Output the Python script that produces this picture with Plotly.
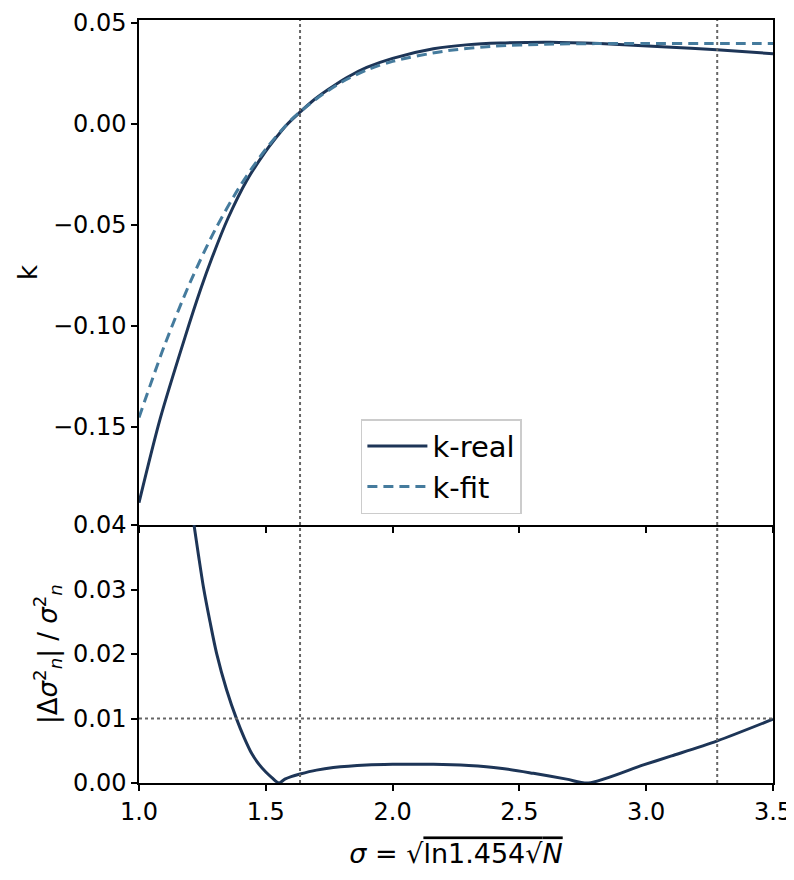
"""
k-real / k-fit comparison with relative error panel
"""
import plotly.graph_objects as go
from plotly.subplots import make_subplots

# top panel: k vs sigma
sigma_real = [1.0, 1.083, 1.181, 1.243, 1.289, 1.35, 1.425, 1.5, 1.536, 1.582, 1.628,
              1.681, 1.746, 1.82, 1.898, 2.0, 2.161, 2.3, 2.424, 2.62, 2.818, 3.081, 3.278, 3.5]
k_real = [-0.1877, -0.1463, -0.1059, -0.0820, -0.0660, -0.0470, -0.0280, -0.0135, -0.0075, -0.0005, 0.0050,
          0.0110, 0.0170, 0.0230, 0.0280, 0.0325, 0.0372, 0.0393, 0.0401, 0.0405, 0.0398, 0.0381, 0.0367, 0.0348]

sigma_fit = [1.0, 1.1, 1.2, 1.3, 1.4, 1.5, 1.6, 1.7, 1.8, 1.9, 2.0, 2.2, 2.4, 2.6, 2.8, 3.0, 3.25, 3.5]
k_fit = [-0.1455, -0.1100, -0.0790, -0.0525, -0.0305, -0.0125, 0.0020, 0.0125, 0.0208, 0.0268, 0.0310,
         0.0360, 0.0385, 0.0395, 0.0398, 0.0399, 0.0399, 0.0399]

# bottom panel: relative error
sigma_err = [1.2, 1.217, 1.235, 1.254, 1.28, 1.306, 1.345, 1.385, 1.415, 1.444, 1.475, 1.5, 1.525, 1.552,
             1.575, 1.6, 1.635, 1.7, 1.766, 1.898, 2.0, 2.161, 2.3, 2.424, 2.555, 2.686, 2.772,
             2.989, 3.1, 3.278, 3.5]
rel_err = [0.0445, 0.0400, 0.0352, 0.0304, 0.0250, 0.0201, 0.0145, 0.0099, 0.0070, 0.0046, 0.0028, 0.0017,
           0.0008, 0.0, 0.0006, 0.0010, 0.0014, 0.0020, 0.0024, 0.0028, 0.0029, 0.0029, 0.0027, 0.0023,
           0.0015, 0.0006, 0.0, 0.0028, 0.0042, 0.0065, 0.0099]

vlines = [1.635, 3.28]
hline = 0.01

C_REAL = '#1d3557'
C_FIT = '#457b9d'
FONT = 'DejaVu Sans'

# page body has an 8px margin, so the figure is sized to fit inside the window
fig = make_subplots(rows=2, cols=1, shared_xaxes=True, vertical_spacing=0,
                    row_heights=[0.6619, 0.3381])

fig.add_trace(go.Scatter(x=sigma_real, y=k_real, mode='lines', name='k-real',
                         line=dict(color=C_REAL, width=3, shape='spline', smoothing=0.8)),
              row=1, col=1)
fig.add_trace(go.Scatter(x=sigma_fit, y=k_fit, mode='lines', name='k-fit',
                         line=dict(color=C_FIT, width=3, dash='10px,6px', shape='spline', smoothing=0.8)),
              row=1, col=1)
fig.add_trace(go.Scatter(x=sigma_err, y=rel_err, mode='lines', showlegend=False,
                         line=dict(color=C_REAL, width=3, shape='spline', smoothing=0.8)),
              row=2, col=1)

# dotted reference lines
for xv in vlines:
    fig.add_shape(type='line', x0=xv, x1=xv, y0=0, y1=1, xref='x', yref='paper',
                  line=dict(color='#666666', width=2, dash='dot'))
fig.add_shape(type='line', x0=1.0, x1=3.5, y0=hline, y1=hline, xref='x', yref='y2',
              line=dict(color='#666666', width=2, dash='dot'))

axis_style = dict(showline=True, linecolor='black', linewidth=1.5, automargin=False,
                  ticks='outside', ticklen=6, tickwidth=1.5, tickcolor='black',
                  ticklabeloverflow='allow',
                  showgrid=False, zeroline=False, tickfont=dict(size=24, color='black'))

fig.update_xaxes(range=[1.0, 3.5], dtick=0.5, tickformat='.1f', **axis_style)
fig.update_xaxes(showticklabels=False, mirror=True, row=1, col=1)
fig.update_xaxes(
    title=dict(text='<i>σ</i> = √<span style="text-decoration:overline">ln1.454√<i>N</i></span>',
               font=dict(size=27, color='black'), standoff=20),
    row=2, col=1)

fig.update_yaxes(mirror=True, **axis_style)
fig.update_yaxes(range=[-0.1988, 0.0515], tickvals=[-0.15, -0.10, -0.05, 0.0, 0.05], tickformat='.2f',
                 title=dict(text='k', font=dict(size=26, color='black'), standoff=8),
                 row=1, col=1)
fig.update_yaxes(range=[0, 0.04], dtick=0.01, tickformat='.2f',
                 title=dict(text='|Δ<i>σ</i><sup>2</sup><sub><i>n</i></sub>| / <i>σ</i><sup>2</sup><sub><i>n</i></sub>',
                            font=dict(size=26, color='black'), standoff=8),
                 row=2, col=1)

fig.update_layout(
    width=786, height=872,
    margin=dict(l=131, r=21, t=12, b=97),
    plot_bgcolor='white', paper_bgcolor='white',
    font=dict(family=FONT, color='black'),
    legend=dict(x=0.35, y=0.477, xanchor='left', yanchor='top',
                bgcolor='rgba(255,255,255,0.9)', bordercolor='#cccccc', borderwidth=1.5,
                font=dict(size=29, color='black'), itemwidth=60),
)

fig.write_html("out.html")
